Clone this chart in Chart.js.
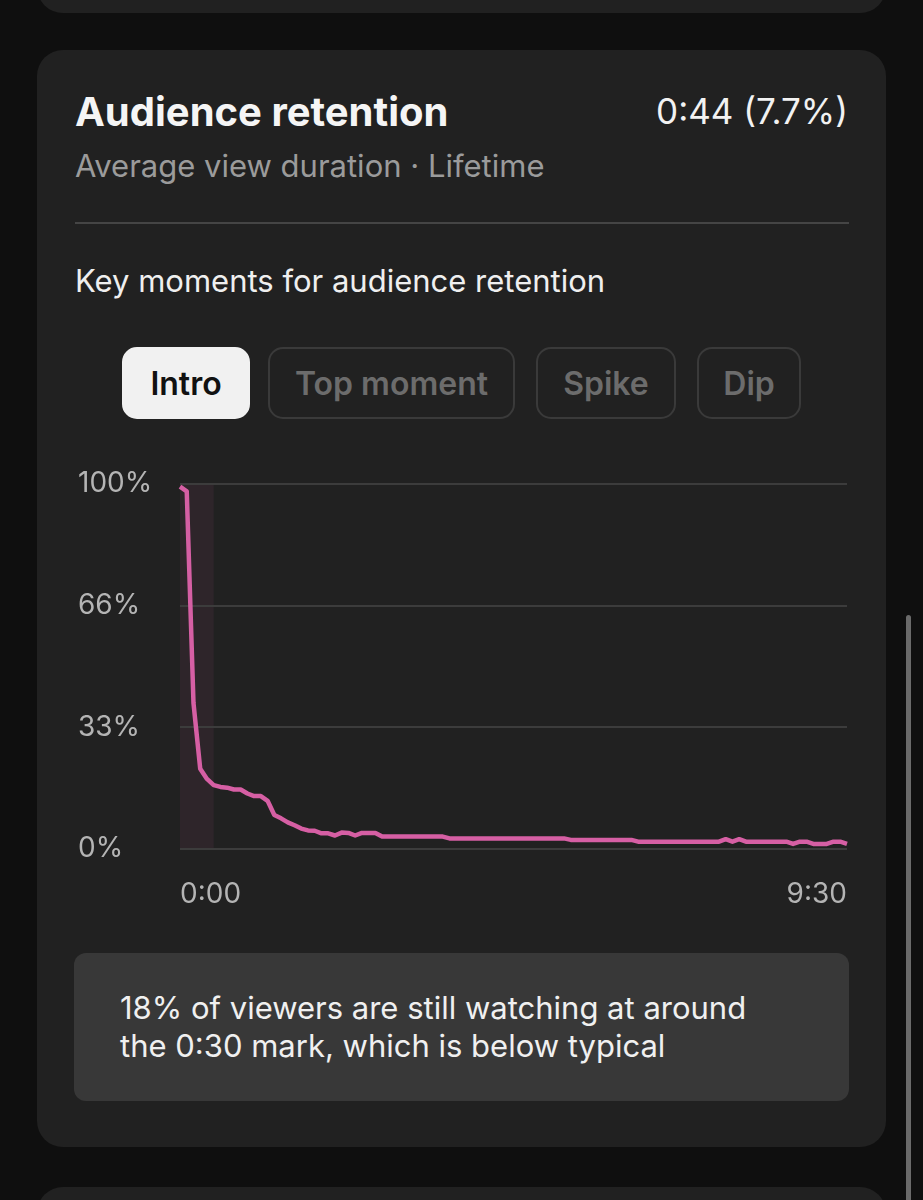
<!DOCTYPE html>
<html>
<head>
<meta charset="utf-8">
<script src="https://cdn.jsdelivr.net/npm/chart.js@4"></script>
<style>
  body {
    margin: 0;
    width: 923px;
    height: 1200px;
    background: #0f0f0f;
    font-family: "Inter", "Roboto", sans-serif;
    overflow: hidden;
    position: relative;
  }
  .card {
    position: absolute;
    left: 37px;
    width: 849px;
    background: #212121;
    border-radius: 26px;
  }
  .card.top { top: -60px; height: 73px; }
  .card.main { top: 50px; height: 1097px; }
  .card.next { top: 1187px; height: 80px; }
  .title {
    position: absolute; left: 38px; top: 42px;
    font-size: 40px; line-height: 40px; font-weight: 700; color: #f5f5f5;
  }
  .total {
    position: absolute; right: 38px; top: 44px;
    font-size: 35px; line-height: 35px; color: #f2f2f2;
  }
  .subtitle {
    position: absolute; left: 38px; top: 100px;
    font-size: 31px; line-height: 31px; color: #9b9b9b;
  }
  .divider {
    position: absolute; left: 38px; top: 172px;
    width: 774px; height: 2px; background: #454545;
  }
  .moments {
    position: absolute; left: 38px; top: 215px;
    font-size: 31px; line-height: 31px; color: #efefef;
  }
  .pill {
    position: absolute; top: 297px; height: 72px;
    box-sizing: border-box;
    border: 2px solid #3a3a3a; border-radius: 15px;
    display: flex; align-items: center; justify-content: center;
    font-size: 32px; font-weight: 600; color: #6c6c6c;
  }
  .pill.active { background: #f1f1f1; border-color: #f1f1f1; color: #111; }
  .chart-box {
    position: absolute; left: 41px; top: 410px;
    width: 790px; height: 460px;
  }
  .note {
    position: absolute; left: 37px; top: 903px;
    width: 775px; height: 148px;
    background: #383838; border-radius: 12px;
  }
  .note p {
    margin: 0; position: absolute; left: 46px; top: 36px;
    font-size: 31px; line-height: 38px; color: #f0f0f0;
  }
  .scrollbar {
    position: absolute; left: 906px; top: 615px;
    width: 5px; height: 640px; background: #6a6a6a; border-radius: 3px;
  }
</style>
</head>
<body>
<div class="card top"></div>
<div class="card main">
  <div class="title">Audience retention</div>
  <div class="total">0:44 (7.7%)</div>
  <div class="subtitle">Average view duration · Lifetime</div>
  <div class="divider"></div>
  <div class="moments">Key moments for audience retention</div>
  <div class="pill active" style="left:85px;width:128px;">Intro</div>
  <div class="pill" style="left:231px;width:247px;">Top moment</div>
  <div class="pill" style="left:499px;width:140px;">Spike</div>
  <div class="pill" style="left:660px;width:104px;">Dip</div>
  <div class="chart-box"><canvas id="chart"></canvas></div>
  <div class="note"><p>18% of viewers are still watching at around<br>the 0:30 mark, which is below typical</p></div>
</div>
<div class="card next"></div>
<div class="scrollbar"></div>

<script>
// retention (% of viewers), 100 samples across the video
const retention = [
    99.3, 98, 40, 22, 19.2, 17.5, 17.0, 16.8, 16.3, 16.3,
    15.2, 14.5, 14.5, 13.2, 9.3, 8.4, 7.3, 6.5, 5.6, 5.1,
    5.0, 4.3, 4.3, 3.7, 4.5, 4.4, 3.7, 4.4, 4.4, 4.4,
    3.4, 3.4, 3.4, 3.4, 3.4, 3.4, 3.4, 3.4, 3.4, 3.4,
    2.9, 2.9, 2.9, 2.9, 2.9, 2.9, 2.9, 2.9, 2.9, 2.9,
    2.9, 2.9, 2.9, 2.9, 2.9, 2.9, 2.9, 2.9, 2.5, 2.5,
    2.5, 2.5, 2.5, 2.5, 2.5, 2.5, 2.5, 2.5, 2.0, 2.0,
    2.0, 2.0, 2.0, 2.0, 2.0, 2.0, 2.0, 2.0, 2.0, 2.0,
    2.0, 2.7, 2.0, 2.7, 2.0, 2.0, 2.0, 2.0, 2.0, 2.0,
    2.0, 1.4, 2.0, 2.0, 1.4, 1.4, 1.4, 2.0, 2.0, 1.4
];
const timeLabels = ['0:00', '9:30'];
const yTickValues = [0, 100 / 3, 200 / 3, 100];
const yTickLabels = ['0%', '33%', '66%', '100%'];
const introStart = 0;
const introEnd = 5; // sample index where the intro moment ends (~0:30)

const sampleIndex = retention.map((_, i) => i);

const introShade = {
    id: 'introShade',
    beforeDraw(chart) {
        const { ctx, chartArea, scales } = chart;
        const x0 = scales.x.getPixelForValue(introStart);
        const x1 = scales.x.getPixelForValue(introEnd);
        ctx.save();
        ctx.fillStyle = '#2e252a';
        ctx.fillRect(x0, chartArea.top, x1 - x0, chartArea.bottom - chartArea.top);
        ctx.restore();
    }
};

const ctx = document.getElementById('chart').getContext('2d');
new Chart(ctx, {
    type: 'line',
    data: {
        labels: sampleIndex,
        datasets: [{
            data: retention,
            borderColor: '#d65fa4',
            borderWidth: 4.5,
            pointRadius: 0,
            tension: 0,
            borderJoinStyle: 'round',
            fill: false
        }]
    },
    options: {
        responsive: true,
        maintainAspectRatio: false,
        animation: false,
        layout: { padding: { top: 24, right: 0, bottom: 0, left: 0 } },
        plugins: {
            legend: { display: false },
            tooltip: { enabled: false }
        },
        scales: {
            x: {
                type: 'category',
                offset: false,
                grid: { display: false },
                border: { display: false },
                afterFit: (scale) => { scale.height = 71; },
                ticks: {
                    autoSkip: false,
                    maxRotation: 0,
                    align: 'inner',
                    padding: 21,
                    color: '#b4b4b4',
                    font: { family: 'Inter', size: 28 },
                    callback: (value, index) => {
                        if (index === 0) return timeLabels[0];
                        if (index === retention.length - 1) return timeLabels[1];
                        return null;
                    }
                }
            },
            y: {
                min: 0,
                max: 100,
                afterBuildTicks: (scale) => {
                    scale.ticks = yTickValues.map(v => ({ value: v }));
                },
                afterFit: (scale) => { scale.width = 102; },
                grid: { color: '#3c3c3c', lineWidth: 2, drawTicks: false },
                border: { display: false },
                ticks: {
                    crossAlign: 'far',
                    padding: 0,
                    color: '#b4b4b4',
                    font: { family: 'Inter', size: 28 },
                    callback: (value, index) => yTickLabels[index]
                }
            }
        }
    },
    plugins: [introShade]
});
</script>
</body>
</html>
